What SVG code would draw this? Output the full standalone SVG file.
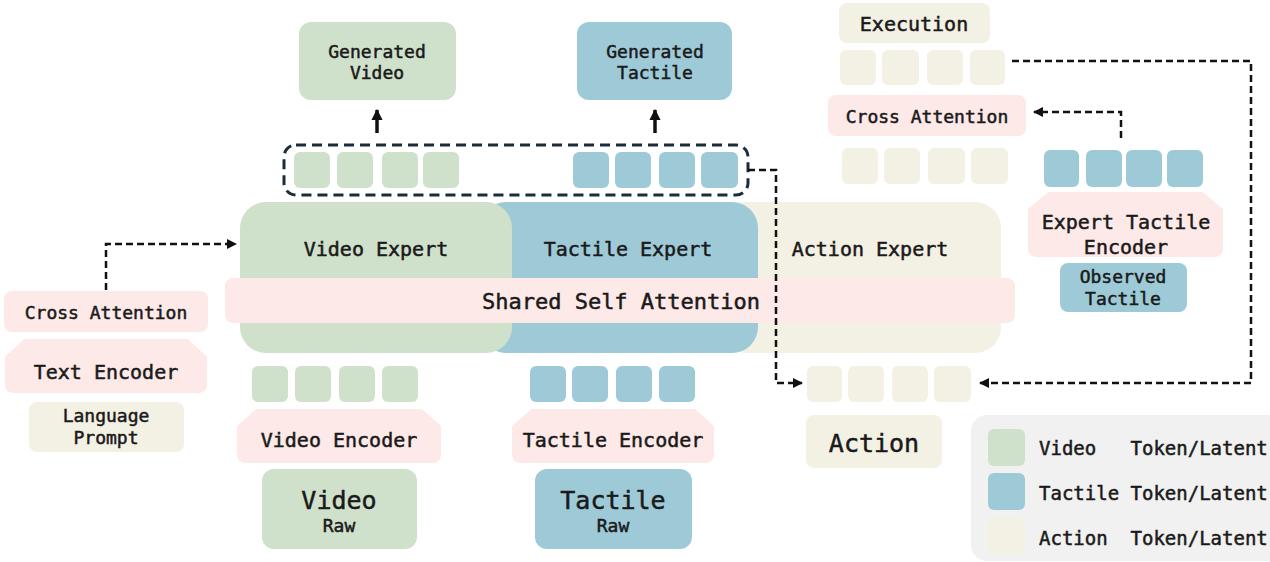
<svg xmlns="http://www.w3.org/2000/svg" width="1270" height="562" viewBox="0 0 1270 562">
<defs>
<style>
text{font-family:"DejaVu Sans Mono","Liberation Mono",monospace;fill:#1a1a1a;stroke:#1a1a1a;stroke-width:0.5;text-anchor:middle}
.g{fill:#d0e1cb}.b{fill:#9ecad8}.a{fill:#f3f0e4}.p{fill:#fde9e7}
.enc{fill:#fde9e7;stroke:#fde9e7;stroke-width:4;stroke-linejoin:round}
.dash{fill:none;stroke:#111;stroke-width:2.5;stroke-dasharray:7 4}
.solid{fill:none;stroke:#111;stroke-width:3.5}
.s18{font-size:18px}.s20{font-size:20px}.s22{font-size:22px}.s25{font-size:25px}.s19{font-size:19px}
</style>
<marker id="ah" viewBox="0 0 10 10" refX="9" refY="5" markerWidth="4" markerHeight="4" orient="auto" markerUnits="strokeWidth">
<path d="M0,0 L10,5 L0,10 Z" fill="#111"/>
</marker>
<marker id="ah2" viewBox="0 0 10 10" refX="9" refY="5" markerWidth="3.2" markerHeight="3.2" orient="auto" markerUnits="strokeWidth">
<path d="M0,0 L10,5 L0,10 Z" fill="#111"/>
</marker>
</defs>

<!-- Main expert block -->
<g id="experts">
<rect class="a" x="720" y="202" width="281" height="151" rx="26"/>
<rect class="b" x="480" y="202" width="278" height="151" rx="26"/>
<rect class="g" x="240" y="202" width="272" height="151" rx="26"/>
<text class="s20" x="376" y="256">Video Expert</text>
<text class="s20" x="628" y="256">Tactile Expert</text>
<text class="s20" x="870" y="256">Action Expert</text>
</g>
<g id="shared-self-attention">
<rect class="p" x="225" y="278" width="790" height="45" rx="8"/>
<text class="s22" x="621" y="309">Shared Self Attention</text>
</g>

<!-- Top outputs -->
<g id="generated-video">
<rect class="g" x="299" y="22" width="157" height="78" rx="12"/>
<text class="s18" x="377" y="58">Generated</text>
<text class="s18" x="377" y="79">Video</text>
</g>
<g id="generated-tactile">
<rect class="b" x="577" y="22" width="155" height="78" rx="12"/>
<text class="s18" x="655" y="58">Generated</text>
<text class="s18" x="655" y="79">Tactile</text>
</g>
<g id="output-tokens">
<rect x="284" y="145" width="464" height="50" rx="12" fill="none" stroke="#1b2d3a" stroke-width="3" stroke-dasharray="10 6"/>
<rect class="g" x="294" y="152" width="36" height="36" rx="6"/>
<rect class="g" x="337" y="152" width="36" height="36" rx="6"/>
<rect class="g" x="382" y="152" width="36" height="36" rx="6"/>
<rect class="g" x="423" y="152" width="36" height="36" rx="6"/>
<rect class="b" x="573" y="152" width="36" height="36" rx="6"/>
<rect class="b" x="615" y="152" width="36" height="36" rx="6"/>
<rect class="b" x="659" y="152" width="36" height="36" rx="6"/>
<rect class="b" x="701" y="152" width="37" height="36" rx="6"/>
</g>

<!-- Left: text branch -->
<g id="cross-attention-left">
<rect class="p" x="4" y="291" width="204" height="41" rx="8"/>
<text class="s18" x="106" y="319">Cross Attention</text>
</g>
<g id="text-encoder">
<path class="enc" d="M7,358 L25,341 L187,341 L205,358 L205,384 Q205,391 198,391 L14,391 Q7,391 7,384 Z"/>
<text class="s20" x="106" y="379">Text Encoder</text>
</g>
<g id="language-prompt">
<rect class="a" x="29" y="402" width="155" height="50" rx="8"/>
<text class="s18" x="106" y="422">Language</text>
<text class="s18" x="106" y="444">Prompt</text>
</g>

<!-- Video input -->
<g id="video-tokens">
<rect class="g" x="252" y="366" width="36" height="36" rx="6"/>
<rect class="g" x="295" y="366" width="36" height="36" rx="6"/>
<rect class="g" x="339" y="366" width="36" height="36" rx="6"/>
<rect class="g" x="382" y="366" width="36" height="36" rx="6"/>
</g>
<g id="video-encoder">
<path class="enc" d="M239,427 L257,411 L421,411 L439,427 L439,454 Q439,461 432,461 L246,461 Q239,461 239,454 Z"/>
<text class="s20" x="339" y="447">Video Encoder</text>
</g>
<g id="video-raw">
<rect class="g" x="262" y="469" width="155" height="80" rx="12"/>
<text class="s25" x="339" y="509">Video</text>
<text class="s18" x="339" y="532">Raw</text>
</g>

<!-- Tactile input -->
<g id="tactile-tokens">
<rect class="b" x="530" y="366" width="36" height="36" rx="6"/>
<rect class="b" x="572" y="366" width="36" height="36" rx="6"/>
<rect class="b" x="616" y="366" width="36" height="36" rx="6"/>
<rect class="b" x="659" y="366" width="36" height="36" rx="6"/>
</g>
<g id="tactile-encoder">
<path class="enc" d="M514,427 L532,411 L694,411 L712,427 L712,454 Q712,461 705,461 L521,461 Q514,461 514,454 Z"/>
<text class="s20" x="613" y="447">Tactile Encoder</text>
</g>
<g id="tactile-raw">
<rect class="b" x="535" y="469" width="157" height="80" rx="12"/>
<text class="s25" x="613" y="509">Tactile</text>
<text class="s18" x="613" y="532">Raw</text>
</g>

<!-- Action -->
<g id="action-tokens">
<rect class="a" x="807" y="366" width="35" height="36" rx="6"/>
<rect class="a" x="848" y="366" width="36" height="36" rx="6"/>
<rect class="a" x="892" y="366" width="36" height="36" rx="6"/>
<rect class="a" x="934" y="366" width="37" height="36" rx="6"/>
</g>
<g id="action">
<rect class="a" x="806" y="415" width="136" height="53" rx="8"/>
<text class="s25" x="874" y="452">Action</text>
</g>

<!-- Top right -->
<g id="execution">
<rect class="a" x="839" y="3" width="151" height="40" rx="8"/>
<text class="s20" x="914" y="31">Execution</text>
</g>
<g id="execution-tokens">
<rect class="a" x="840" y="50" width="36" height="35" rx="6"/>
<rect class="a" x="882" y="50" width="37" height="35" rx="6"/>
<rect class="a" x="927" y="50" width="36" height="35" rx="6"/>
<rect class="a" x="970" y="50" width="35" height="35" rx="6"/>
</g>
<g id="cross-attention-right">
<rect class="p" x="828" y="95" width="198" height="41" rx="8"/>
<text class="s18" x="927" y="123">Cross Attention</text>
</g>
<g id="action-query-tokens">
<rect class="a" x="842" y="148" width="36" height="36" rx="6"/>
<rect class="a" x="884" y="148" width="36" height="36" rx="6"/>
<rect class="a" x="928" y="148" width="37" height="36" rx="6"/>
<rect class="a" x="971" y="148" width="37" height="36" rx="6"/>
</g>
<g id="expert-tactile-tokens">
<rect class="b" x="1044" y="150" width="35" height="37" rx="6"/>
<rect class="b" x="1086" y="150" width="36" height="37" rx="6"/>
<rect class="b" x="1126" y="150" width="36" height="37" rx="6"/>
<rect class="b" x="1167" y="150" width="36" height="37" rx="6"/>
</g>
<g id="expert-tactile-encoder">
<path class="enc" d="M1030,210 L1049,194 L1202,194 L1221,210 L1221,248 Q1221,255 1214,255 L1037,255 Q1030,255 1030,248 Z"/>
<text class="s20" x="1126" y="229">Expert Tactile</text>
<text class="s20" x="1126" y="254">Encoder</text>
</g>
<g id="observed-tactile">
<rect class="b" x="1060" y="263" width="127" height="49" rx="8"/>
<text class="s18" x="1123" y="283">Observed</text>
<text class="s18" x="1123" y="305">Tactile</text>
</g>

<!-- Legend -->
<g id="legend">
<rect x="971" y="415" width="320" height="146" rx="16" fill="#f1f1f1"/>
<rect class="g" x="988" y="429" width="37" height="37" rx="6"/>
<rect class="b" x="988" y="473" width="37" height="37" rx="6"/>
<rect class="a" x="988" y="517" width="37" height="37" rx="6"/>
<text class="s19" x="1039" y="455" style="text-anchor:start;white-space:pre" xml:space="preserve">Video   Token/Latent</text>
<text class="s19" x="1039" y="500" style="text-anchor:start;white-space:pre" xml:space="preserve">Tactile Token/Latent</text>
<text class="s19" x="1039" y="545" style="text-anchor:start;white-space:pre" xml:space="preserve">Action  Token/Latent</text>
</g>

<!-- Connectors -->
<g id="connectors">
<line class="solid" x1="377" y1="133" x2="377" y2="110" marker-end="url(#ah2)"/>
<line class="solid" x1="655" y1="133" x2="655" y2="110" marker-end="url(#ah2)"/>
<path class="dash" d="M106,290 L106,244 L236,244" marker-end="url(#ah)"/>
<path class="dash" d="M748,170 L776,170 L776,383 L802,383" marker-end="url(#ah)"/>
<path class="dash" d="M1012,61 L1251,61 L1251,383 L980,383" marker-end="url(#ah)"/>
<path class="dash" d="M1121,138 L1121,112 L1034,112" marker-end="url(#ah)"/>
</g>
</svg>
